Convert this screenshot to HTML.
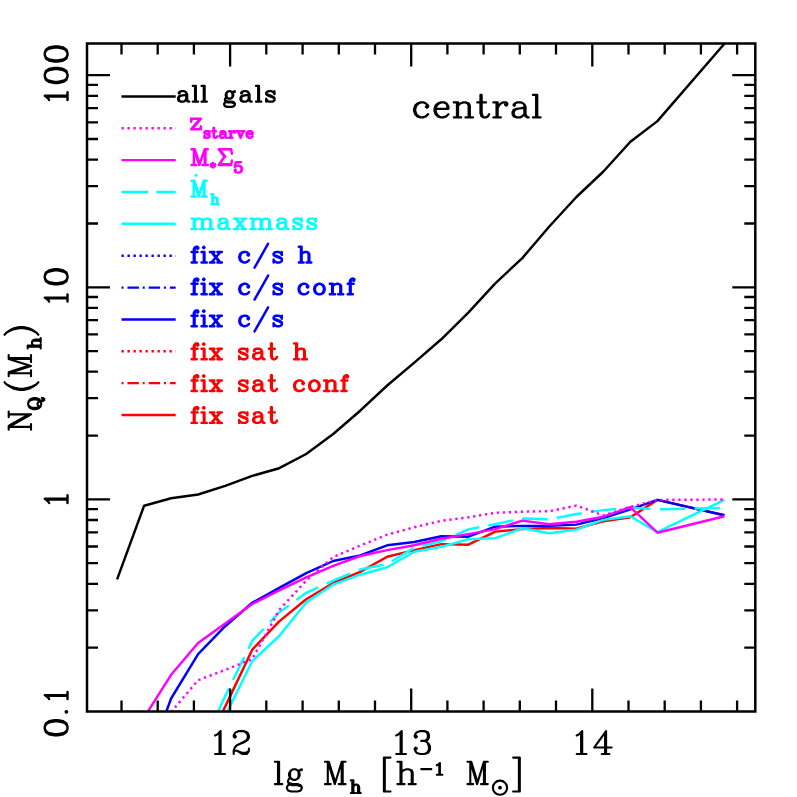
<!DOCTYPE html><html><head><meta charset="utf-8"><title>central</title><style>html,body{margin:0;padding:0;background:#fff}svg{display:block}</style></head><body><svg width="797" height="797" viewBox="0 0 797 797">
<rect width="797" height="797" fill="#fff"/>
<defs><clipPath id="c"><rect x="87.0" y="43.5" width="668.3" height="668.0"/></clipPath></defs>
<g clip-path="url(#c)" fill="none" stroke-width="2.45" stroke-linejoin="round">
<polyline points="198.1,763.6 225.2,706.6 252.2,649.7 279.2,621.4 306.2,599.3 333.2,583.0 360.2,571.9 387.2,556.7 414.3,550.1 441.3,544.1 468.3,544.7 495.3,531.6 522.3,529.1 549.3,528.0 576.4,528.6 603.4,521.3 630.4,517.3 657.4,499.9 724.4,515.3" stroke="#ff0000"/>
<polyline points="144.1,772.0 171.1,698.5 198.1,654.1 225.2,626.2 252.2,602.8 279.2,587.9 306.2,573.2 333.2,561.0 360.2,555.4 387.2,545.3 414.3,542.0 441.3,536.3 468.3,536.7 495.3,526.7 522.3,525.9 549.3,525.9 576.4,524.6 603.4,518.0 630.4,509.3 657.4,499.9 724.4,515.3" stroke="#0000ff"/>
<polyline points="198.1,770.0 225.2,715.8 252.2,661.2 279.2,636.0 306.2,602.6 333.2,584.6 360.2,574.7 387.2,567.3 414.3,551.8 441.3,546.9 468.3,539.2 495.3,538.1 522.3,528.3 549.3,533.2 576.4,529.6 603.4,519.9 630.4,516.3 657.4,532.2 724.4,499.8" stroke="#00ffff"/>
<polyline points="198.1,755.0 225.2,696.0 252.2,640.9 279.2,612.4 306.2,592.8 333.2,580.6 360.2,569.5 387.2,564.0 414.3,547.7 441.3,541.2 468.3,529.4 495.3,524.2 522.3,518.5 549.3,519.3 576.4,514.0 603.4,510.1 630.4,507.7 657.4,509.3 724.4,508.0" stroke="#00ffff" stroke-dasharray="25.4 9.24" stroke-dashoffset="21.1"/>
<polyline points="144.1,717.5 171.1,674.8 198.1,643.0 225.2,623.4 252.2,604.0 279.2,590.4 306.2,577.3 333.2,565.9 360.2,556.0 387.2,550.1 414.3,545.3 441.3,538.7 468.3,534.1 495.3,529.1 522.3,520.6 549.3,524.2 576.4,521.7 603.4,516.7 630.4,507.2 657.4,532.7 724.4,516.3" stroke="#ff00ff"/>
<polyline points="171.1,712.0 198.1,680.2 225.2,669.9 252.2,659.1 279.2,610.0 306.2,580.6 333.2,557.1 360.2,545.6 387.2,534.6 414.3,527.3 441.3,520.8 468.3,517.3 495.3,512.8 522.3,511.7 549.3,511.2 576.4,505.6 603.4,515.4 630.4,506.9 657.4,499.9 724.4,499.5" stroke="#ff00ff" stroke-dasharray="2.3 3.7"/>
<polyline points="117.1,579.3 144.1,505.7 171.1,498.2 198.1,494.5 225.2,485.9 252.2,475.9 279.2,468.2 306.2,454.0 333.2,434.0 360.2,410.7 387.2,385.5 414.3,362.6 441.3,339.3 468.3,312.6 495.3,283.3 522.3,258.1 549.3,226.5 576.4,197.0 603.4,171.5 630.4,141.7 657.4,121.1 724.4,43.8" stroke="#000"/>
</g>
<path d="M121.5 711.5v-11M121.5 43.5v11M157.7 711.5v-11M157.7 43.5v11M193.9 711.5v-11M193.9 43.5v11M230.1 711.5v-23M230.1 43.5v23M266.3 711.5v-11M266.3 43.5v11M302.6 711.5v-11M302.6 43.5v11M338.8 711.5v-11M338.8 43.5v11M375.0 711.5v-11M375.0 43.5v11M411.2 711.5v-23M411.2 43.5v23M447.4 711.5v-11M447.4 43.5v11M483.6 711.5v-11M483.6 43.5v11M519.8 711.5v-11M519.8 43.5v11M556.0 711.5v-11M556.0 43.5v11M592.3 711.5v-23M592.3 43.5v23M628.5 711.5v-11M628.5 43.5v11M664.7 711.5v-11M664.7 43.5v11M700.9 711.5v-11M700.9 43.5v11M737.1 711.5v-11M737.1 43.5v11M87.0 647.7h11M755.3 647.7h-11M87.0 610.3h11M755.3 610.3h-11M87.0 583.8h11M755.3 583.8h-11M87.0 563.2h11M755.3 563.2h-11M87.0 546.5h11M755.3 546.5h-11M87.0 532.3h11M755.3 532.3h-11M87.0 520.0h11M755.3 520.0h-11M87.0 509.1h11M755.3 509.1h-11M87.0 499.4h23M755.3 499.4h-23M87.0 435.6h11M755.3 435.6h-11M87.0 398.2h11M755.3 398.2h-11M87.0 371.7h11M755.3 371.7h-11M87.0 351.1h11M755.3 351.1h-11M87.0 334.4h11M755.3 334.4h-11M87.0 320.2h11M755.3 320.2h-11M87.0 307.9h11M755.3 307.9h-11M87.0 297.0h11M755.3 297.0h-11M87.0 287.3h23M755.3 287.3h-23M87.0 223.5h11M755.3 223.5h-11M87.0 186.1h11M755.3 186.1h-11M87.0 159.6h11M755.3 159.6h-11M87.0 139.0h11M755.3 139.0h-11M87.0 122.3h11M755.3 122.3h-11M87.0 108.1h11M755.3 108.1h-11M87.0 95.8h11M755.3 95.8h-11M87.0 84.9h11M755.3 84.9h-11M87.0 75.2h23M755.3 75.2h-23" stroke="#000" stroke-width="2.3" fill="none"/>
<rect x="87.0" y="43.5" width="668.3" height="668.0" fill="none" stroke="#000" stroke-width="2.5"/>
<line x1="121.5" x2="175.7" y1="96.4" y2="96.4" stroke="#000" stroke-width="2.45" />
<line x1="121.5" x2="175.7" y1="128.3" y2="128.3" stroke="#ff00ff" stroke-width="2.45" stroke-dasharray="2.3 3.7"/>
<line x1="121.5" x2="175.7" y1="160.1" y2="160.1" stroke="#ff00ff" stroke-width="2.45" />
<line x1="121.5" x2="175.7" y1="192.0" y2="192.0" stroke="#00ffff" stroke-width="2.45" stroke-dasharray="26.9 8"/>
<line x1="121.5" x2="175.7" y1="223.8" y2="223.8" stroke="#00ffff" stroke-width="2.45" />
<line x1="121.5" x2="175.7" y1="255.7" y2="255.7" stroke="#0000ff" stroke-width="2.45" stroke-dasharray="2.3 3.7"/>
<line x1="121.5" x2="175.7" y1="287.6" y2="287.6" stroke="#0000ff" stroke-width="2.45" stroke-dasharray="2 4 11.4 3.8"/>
<line x1="121.5" x2="175.7" y1="319.4" y2="319.4" stroke="#0000ff" stroke-width="2.45" />
<line x1="121.5" x2="175.7" y1="351.3" y2="351.3" stroke="#ff0000" stroke-width="2.45" stroke-dasharray="2.3 3.7"/>
<line x1="121.5" x2="175.7" y1="383.1" y2="383.1" stroke="#ff0000" stroke-width="2.45" stroke-dasharray="2 4 11.4 3.8"/>
<line x1="121.5" x2="175.7" y1="415.0" y2="415.0" stroke="#ff0000" stroke-width="2.45" />
<path d="M179.6 92.7L179.6 93.4L178.8 93.4L178.8 92.7L179.6 91.9L181.1 91.2L184.1 91.2L185.6 91.9L186.3 92.7L186.3 94.2L185.6 94.9L181.1 95.7L178.8 96.4L178.1 97.9L178.1 99.4L178.8 100.9L181.1 101.7L179.6 100.9L178.8 99.4L178.8 97.9L179.6 96.4L181.1 95.7M181.1 101.7L183.3 101.7L184.8 100.9L186.3 99.4L186.3 94.2M186.3 92.7L187.1 94.2L187.1 99.4L187.8 100.9L188.6 101.7L187.1 100.9L186.3 99.4M188.6 101.7L189.3 101.7M192.8 85.9L195.8 85.9L195.8 101.7L195.1 101.7L195.1 85.9M192.8 101.7L195.1 101.7M195.8 101.7L198.1 101.7M201.6 85.9L204.6 85.9L204.6 101.7L203.8 101.7L203.8 85.9M201.6 101.7L203.8 101.7M204.6 101.7L206.8 101.7M225.0 100.2L225.0 99.4L225.8 97.9L226.5 97.2L225.8 95.7L225.8 94.2L226.5 92.7L227.2 91.9L228.8 91.2L230.2 91.2L231.8 91.9L232.5 92.7L233.2 91.9L234.8 91.2L234.8 91.9L233.2 91.9M225.0 100.2L225.8 100.9L228.0 101.7L231.8 101.7L234.0 102.4L234.8 103.9L234.0 103.2L231.8 102.4L228.0 102.4L225.8 101.7L225.0 100.2M226.5 97.2L227.2 97.9L226.5 96.4L226.5 93.4L227.2 91.9M227.2 97.9L228.8 98.7L230.2 98.7L231.8 97.9L232.5 96.4L232.5 93.4L231.8 91.9M227.2 101.7L225.0 102.4L224.2 103.9L224.2 104.7L225.0 106.2L227.2 106.9L231.8 106.9L234.0 106.2L234.8 104.7L234.8 103.9M231.8 97.9L232.5 97.2L233.2 95.7L233.2 94.2L232.5 92.7M242.0 92.7L242.0 93.4L241.2 93.4L241.2 92.7L242.0 91.9L243.5 91.2L246.5 91.2L248.0 91.9L248.7 92.7L248.7 94.2L248.0 94.9L243.5 95.7L241.2 96.4L240.5 97.9L240.5 99.4L241.2 100.9L243.5 101.7L242.0 100.9L241.2 99.4L241.2 97.9L242.0 96.4L243.5 95.7M243.5 101.7L245.7 101.7L247.2 100.9L248.7 99.4L248.7 94.2M248.7 92.7L249.5 94.2L249.5 99.4L250.2 100.9L251.0 101.7L249.5 100.9L248.7 99.4M251.0 101.7L251.7 101.7M256.0 85.9L259.0 85.9L259.0 101.7L258.2 101.7L258.2 85.9M256.0 101.7L258.2 101.7M259.0 101.7L261.2 101.7M266.2 93.4L266.2 92.7L267.0 91.9L268.5 91.2L271.5 91.2L273.0 91.9L273.7 92.7L274.5 91.2L274.5 94.2L273.7 92.7M266.2 93.4L266.2 94.2L267.0 94.9L268.5 95.7L272.2 97.2L273.7 97.9L274.5 98.7L274.5 97.9L273.7 97.2L272.2 96.4L268.5 94.9L267.0 94.2L266.2 93.4M267.0 100.2L266.2 98.7L266.2 101.7L267.0 100.2L267.7 100.9L269.2 101.7L272.2 101.7L273.7 100.9L274.5 100.2L274.5 98.7" fill="none" stroke="#000" stroke-width="2.3" stroke-linecap="round" stroke-linejoin="round"/>
<path d="M191.9 118.8L191.1 118.8L191.1 121.8L191.9 118.8L200.9 118.8L197.6 122.5L198.4 121.8M191.9 129.3L200.9 118.8L195.2 125.5L197.6 122.5L191.9 129.3L195.2 125.5M191.9 129.3L191.1 129.3L200.1 118.8L196.8 122.5L197.6 121.8M191.9 129.3L200.1 129.3L200.9 126.3L200.9 129.3L200.1 129.3M194.4 125.5L200.1 118.8M194.4 125.5L196.8 122.5L191.1 129.3L194.4 125.5M204.4 132.6L204.4 132.1L204.9 131.6L205.8 131.2L207.7 131.2L208.6 131.6L209.1 132.1L209.6 131.2L209.6 133.1L209.1 132.1M204.4 132.6L204.4 133.1L204.9 133.5L205.8 134.0L208.2 134.9L209.1 135.4L209.6 135.9L209.6 135.4L209.1 134.9L208.2 134.5L205.8 133.5L204.9 133.1L204.4 132.6M204.9 136.8L204.4 135.9L204.4 137.8L204.9 136.8L205.3 137.3L206.3 137.8L208.2 137.8L209.1 137.3L209.6 136.8L209.6 135.9M212.2 131.2L213.6 131.2L213.6 127.9M214.0 127.9L214.0 131.2L213.6 131.2L213.6 135.9L214.0 137.3L215.0 137.8L214.5 137.3L214.0 135.9L214.0 131.2L215.9 131.2M215.0 137.8L215.9 137.8L216.9 137.3L217.3 136.3M220.9 132.1L220.9 132.6L220.4 132.6L220.4 132.1L220.9 131.6L221.8 131.2L223.7 131.2L224.6 131.6L225.1 132.1L225.1 133.1L224.6 133.5L221.8 134.0L220.4 134.5L219.9 135.4L219.9 136.3L220.4 137.3L221.8 137.8L220.9 137.3L220.4 136.3L220.4 135.4L220.9 134.5L221.8 134.0M221.8 137.8L223.2 137.8L224.1 137.3L225.1 136.3L225.1 133.1M225.1 132.1L225.6 133.1L225.6 136.3L226.0 137.3L226.5 137.8L225.6 137.3L225.1 136.3M226.5 137.8L227.0 137.8M229.1 131.2L231.0 131.2L231.0 134.0L231.4 132.6L232.4 131.6L233.3 131.2L234.7 131.2L235.2 131.6L235.2 132.1L234.7 132.6L234.3 132.1L234.7 131.6M229.1 137.8L230.5 137.8L230.5 131.2M230.5 137.8L231.0 137.8L231.0 134.0M231.0 137.8L232.4 137.8M236.8 131.2L239.7 131.2M237.8 131.2L240.6 137.8L243.4 131.2L241.6 131.2M238.3 131.2L239.2 133.5L239.7 134.5L238.3 131.2L240.6 136.8L239.2 133.5M239.7 134.5L240.6 136.8M243.4 131.2L244.4 131.2M247.0 134.0L247.4 132.6L248.4 131.6L249.3 131.2L250.7 131.2L251.7 131.6L252.1 132.1L252.6 133.1L252.6 134.0L252.1 134.0L252.1 132.6L251.7 131.6M247.0 134.0L252.1 134.0M247.0 134.0L247.0 134.9L247.4 136.3L248.4 137.3L249.3 137.8L247.9 137.3L247.0 136.3L246.5 134.9L246.5 134.0L247.0 132.6L247.9 131.6L249.3 131.2M249.3 137.8L250.2 137.8L251.7 137.3L252.6 136.3" fill="none" stroke="#ff00ff" stroke-width="2.4" stroke-linecap="round" stroke-linejoin="round"/>
<path d="M191.6 149.2L194.7 149.2L199.3 162.8M191.6 165.0L193.9 165.0L193.9 149.2L199.3 165.0L204.7 149.2L207.8 149.2M193.9 165.0L196.2 165.0M202.4 165.0L204.7 165.0L204.7 149.2M204.7 165.0L205.5 165.0L205.5 149.2M205.5 165.0L207.8 165.0M218.7 149.2L224.5 156.8L218.7 165.0M219.5 149.2L225.3 156.8M218.7 149.2L231.1 149.2L231.9 153.8M230.2 150.0L231.1 149.2M219.5 164.2L231.1 164.2M218.7 165.0L231.1 165.0L231.9 160.5M235.3 170.6L235.8 170.1L235.3 169.6L234.8 170.1L234.8 170.6L235.3 171.6L235.8 172.1L237.4 172.6L238.9 172.6L239.9 172.1L241.0 171.1L241.5 169.6L241.5 168.6L241.0 167.1L239.9 166.1L238.9 165.6L237.4 165.6L235.8 166.1L234.8 167.1L235.8 162.1L241.0 162.1L238.4 162.6L235.8 162.6M238.9 165.6L240.5 166.1L241.5 167.1L242.0 168.6L242.0 169.6L241.5 171.1L240.5 172.1L238.9 172.6" fill="none" stroke="#ff00ff" stroke-width="2.4" stroke-linecap="round" stroke-linejoin="round"/><path d="M212.9 167.5L212.9 162.9M214.9 166.3L210.9 164.0M214.9 164.0L210.9 166.3" stroke="#ff00ff" stroke-width="2.4" stroke-linecap="round" fill="none"/><circle cx="212.9" cy="165.2" r="2.7" fill="#ff00ff"/>
<path d="M191.6 180.8L194.5 180.8L198.7 194.2M191.6 196.5L193.7 196.5L193.7 180.8L198.7 196.5L203.7 180.8L206.6 180.8M193.7 196.5L195.9 196.5M201.6 196.5L203.7 196.5L203.7 180.8M203.7 196.5L204.5 196.5L204.5 180.8M204.5 196.5L206.6 196.5M211.3 194.2L213.0 194.2L213.0 198.9L213.8 198.0L215.0 197.5L215.8 197.5L216.7 198.0L217.1 198.9L217.1 204.1L215.8 204.1M211.3 204.1L212.5 204.1L212.5 194.2M212.5 204.1L213.0 204.1L213.0 198.9M213.0 204.1L214.2 204.1M215.8 197.5L217.1 198.0L217.5 198.9L217.5 204.1L217.1 204.1M217.5 204.1L218.7 204.1" fill="none" stroke="#00ffff" stroke-width="2.4" stroke-linecap="round" stroke-linejoin="round"/><circle cx="196.2" cy="175.2" r="1.5" fill="#00ffff"/>
<path d="M191.6 218.6L194.6 218.6L194.6 220.8L196.1 219.3L198.3 218.6L199.8 218.6L201.3 219.3L202.1 220.8L202.1 229.1L199.8 229.1M191.6 229.1L193.8 229.1L193.8 218.6M193.8 229.1L194.6 229.1L194.6 220.8M194.6 229.1L196.8 229.1M199.8 218.6L202.1 219.3L202.8 220.8L204.3 219.3L206.6 218.6L208.1 218.6L209.6 219.3L210.3 220.8L210.3 229.1L208.1 229.1M202.1 229.1L202.8 229.1L202.8 220.8M202.8 229.1L205.1 229.1M208.1 218.6L210.3 219.3L211.1 220.8L211.1 229.1L210.3 229.1M211.1 229.1L213.3 229.1M219.9 220.1L219.9 220.8L219.2 220.8L219.2 220.1L219.9 219.3L221.4 218.6L224.4 218.6L225.9 219.3L226.7 220.1L226.7 221.6L225.9 222.3L221.4 223.1L219.2 223.8L218.4 225.3L218.4 226.8L219.2 228.3L221.4 229.1L219.9 228.3L219.2 226.8L219.2 225.3L219.9 223.8L221.4 223.1M221.4 229.1L223.7 229.1L225.2 228.3L226.7 226.8L226.7 221.6M226.7 220.1L227.4 221.6L227.4 226.8L228.2 228.3L228.9 229.1L227.4 228.3L226.7 226.8M228.9 229.1L229.7 229.1M234.0 218.6L238.5 218.6M234.0 229.1L235.5 229.1L244.5 218.6L241.5 218.6M235.5 218.6L238.5 222.3L237.8 221.6M235.5 218.6L240.8 225.3L238.5 222.3L243.8 229.1L235.5 218.6M236.2 218.6L239.2 222.3L238.5 221.6M236.2 218.6L241.5 225.3L239.2 222.3L244.5 229.1L236.2 218.6M236.2 228.3L235.5 229.1L238.5 229.1M239.2 224.6L240.8 223.1M240.8 225.3L243.8 229.1L241.5 229.1M241.5 225.3L244.5 229.1L243.8 229.1M243.8 219.3L244.5 218.6L246.0 218.6M244.5 229.1L246.0 229.1M250.3 218.6L253.3 218.6L253.3 220.8L254.8 219.3L257.1 218.6L258.6 218.6L260.1 219.3L260.8 220.8L260.8 229.1L258.6 229.1M250.3 229.1L252.6 229.1L252.6 218.6M252.6 229.1L253.3 229.1L253.3 220.8M253.3 229.1L255.6 229.1M258.6 218.6L260.8 219.3L261.6 220.8L263.1 219.3L265.3 218.6L266.8 218.6L268.3 219.3L269.1 220.8L269.1 229.1L266.8 229.1M260.8 229.1L261.6 229.1L261.6 220.8M261.6 229.1L263.8 229.1M266.8 218.6L269.1 219.3L269.8 220.8L269.8 229.1L269.1 229.1M269.8 229.1L272.1 229.1M278.6 220.1L278.6 220.8L277.9 220.8L277.9 220.1L278.6 219.3L280.1 218.6L283.1 218.6L284.6 219.3L285.4 220.1L285.4 221.6L284.6 222.3L280.1 223.1L277.9 223.8L277.1 225.3L277.1 226.8L277.9 228.3L280.1 229.1L278.6 228.3L277.9 226.8L277.9 225.3L278.6 223.8L280.1 223.1M280.1 229.1L282.4 229.1L283.9 228.3L285.4 226.8L285.4 221.6M285.4 220.1L286.1 221.6L286.1 226.8L286.9 228.3L287.6 229.1L286.1 228.3L285.4 226.8M287.6 229.1L288.4 229.1M293.5 220.8L293.5 220.1L294.2 219.3L295.7 218.6L298.7 218.6L300.2 219.3L301.0 220.1L301.7 218.6L301.7 221.6L301.0 220.1M293.5 220.8L293.5 221.6L294.2 222.3L295.7 223.1L299.5 224.6L301.0 225.3L301.7 226.1L301.7 225.3L301.0 224.6L299.5 223.8L295.7 222.3L294.2 221.6L293.5 220.8M294.2 227.6L293.5 226.1L293.5 229.1L294.2 227.6L295.0 228.3L296.5 229.1L299.5 229.1L301.0 228.3L301.7 227.6L301.7 226.1M307.6 220.8L307.6 220.1L308.3 219.3L309.8 218.6L312.8 218.6L314.3 219.3L315.1 220.1L315.8 218.6L315.8 221.6L315.1 220.1M307.6 220.8L307.6 221.6L308.3 222.3L309.8 223.1L313.6 224.6L315.1 225.3L315.8 226.1L315.8 225.3L315.1 224.6L313.6 223.8L309.8 222.3L308.3 221.6L307.6 220.8M308.3 227.6L307.6 226.1L307.6 229.1L308.3 227.6L309.1 228.3L310.6 229.1L313.6 229.1L315.1 228.3L315.8 227.6L315.8 226.1" fill="none" stroke="#00ffff" stroke-width="2.4" stroke-linecap="round" stroke-linejoin="round"/>
<path d="M191.6 252.0L193.8 252.0L193.8 249.0L194.6 247.5L196.1 246.7L197.6 246.7L198.3 247.5L198.3 248.2L197.6 249.0L196.8 248.2L197.6 247.5M191.6 262.5L193.8 262.5L193.8 252.0L194.6 252.0L194.6 249.0L195.3 247.5L196.1 246.7M193.8 262.5L194.6 262.5L194.6 252.0L197.6 252.0M194.6 262.5L196.8 262.5M201.5 252.0L204.5 252.0L204.5 262.5L203.8 262.5L203.8 252.0M201.5 262.5L203.8 262.5M204.5 262.5L206.8 262.5M203.0 247.5L203.8 246.7L204.5 247.5L203.8 248.2L203.0 247.5M209.9 252.0L214.4 252.0M209.9 262.5L211.4 262.5L220.4 252.0L217.4 252.0M211.4 252.0L214.4 255.7L213.6 255.0M211.4 252.0L216.6 258.7L214.4 255.7L219.6 262.5L211.4 252.0M212.1 252.0L215.1 255.7L214.4 255.0M212.1 252.0L217.4 258.7L215.1 255.7L220.4 262.5L212.1 252.0M212.1 261.7L211.4 262.5L214.4 262.5M215.1 258.0L216.6 256.5M216.6 258.7L219.6 262.5L217.4 262.5M217.4 258.7L220.4 262.5L219.6 262.5M219.6 252.7L220.4 252.0L221.9 252.0M220.4 262.5L221.9 262.5M243.8 252.0L246.0 252.0L247.5 252.7L249.0 254.2L249.0 255.0L248.3 255.7L247.5 255.0L248.3 254.2M243.8 252.0L241.5 252.7L240.0 254.2L239.3 256.5L239.3 258.0L240.0 260.2L241.5 261.7L243.8 262.5L242.3 261.7L240.8 260.2L240.0 258.0L240.0 256.5L240.8 254.2L242.3 252.7L243.8 252.0M243.8 262.5L245.3 262.5L247.5 261.7L249.0 260.2M254.5 267.7L265.1 249.0L268.1 243.7L267.3 245.2M254.5 267.7L264.3 250.5L268.1 243.7L261.3 255.7L265.1 249.0L264.3 250.5L261.3 255.7L260.6 257.2M254.5 267.7L261.3 255.7L258.3 261.0L268.1 243.7L257.6 262.5L264.3 250.5M254.5 267.7L258.3 261.0L265.1 249.0M254.5 267.7L257.6 262.5L261.3 255.7M257.6 262.5L258.3 261.0M273.6 254.2L273.6 253.5L274.3 252.7L275.8 252.0L278.8 252.0L280.3 252.7L281.1 253.5L281.8 252.0L281.8 255.0L281.1 253.5M273.6 254.2L273.6 255.0L274.3 255.7L275.8 256.5L279.6 258.0L281.1 258.7L281.8 259.5L281.8 258.7L281.1 258.0L279.6 257.2L275.8 255.7L274.3 255.0L273.6 254.2M274.3 261.0L273.6 259.5L273.6 262.5L274.3 261.0L275.1 261.7L276.6 262.5L279.6 262.5L281.1 261.7L281.8 261.0L281.8 259.5M298.8 246.7L301.6 246.7L301.6 254.2L303.0 252.7L305.1 252.0L306.5 252.0L307.9 252.7L308.6 254.2L308.6 262.5L306.5 262.5M298.8 262.5L300.9 262.5L300.9 246.7M300.9 262.5L301.6 262.5L301.6 254.2M301.6 262.5L303.7 262.5M306.5 252.0L308.6 252.7L309.3 254.2L309.3 262.5L308.6 262.5M309.3 262.5L311.4 262.5" fill="none" stroke="#0000ff" stroke-width="2.4" stroke-linecap="round" stroke-linejoin="round"/>
<path d="M191.6 283.8L193.8 283.8L193.8 280.8L194.6 279.3L196.1 278.6L197.6 278.6L198.3 279.3L198.3 280.1L197.6 280.8L196.8 280.1L197.6 279.3M191.6 294.3L193.8 294.3L193.8 283.8L194.6 283.8L194.6 280.8L195.3 279.3L196.1 278.6M193.8 294.3L194.6 294.3L194.6 283.8L197.6 283.8M194.6 294.3L196.8 294.3M201.5 283.8L204.5 283.8L204.5 294.3L203.8 294.3L203.8 283.8M201.5 294.3L203.8 294.3M204.5 294.3L206.8 294.3M203.0 279.3L203.8 278.6L204.5 279.3L203.8 280.1L203.0 279.3M209.9 283.8L214.4 283.8M209.9 294.3L211.4 294.3L220.4 283.8L217.4 283.8M211.4 283.8L214.4 287.6L213.6 286.8M211.4 283.8L216.6 290.6L214.4 287.6L219.6 294.3L211.4 283.8M212.1 283.8L215.1 287.6L214.4 286.8M212.1 283.8L217.4 290.6L215.1 287.6L220.4 294.3L212.1 283.8M212.1 293.6L211.4 294.3L214.4 294.3M215.1 289.8L216.6 288.3M216.6 290.6L219.6 294.3L217.4 294.3M217.4 290.6L220.4 294.3L219.6 294.3M219.6 284.6L220.4 283.8L221.9 283.8M220.4 294.3L221.9 294.3M243.8 283.8L246.0 283.8L247.5 284.6L249.0 286.1L249.0 286.8L248.3 287.6L247.5 286.8L248.3 286.1M243.8 283.8L241.5 284.6L240.0 286.1L239.3 288.3L239.3 289.8L240.0 292.1L241.5 293.6L243.8 294.3L242.3 293.6L240.8 292.1L240.0 289.8L240.0 288.3L240.8 286.1L242.3 284.6L243.8 283.8M243.8 294.3L245.3 294.3L247.5 293.6L249.0 292.1M254.5 299.6L265.1 280.8L268.1 275.6L267.3 277.1M254.5 299.6L264.3 282.3L268.1 275.6L261.3 287.6L265.1 280.8L264.3 282.3L261.3 287.6L260.6 289.1M254.5 299.6L261.3 287.6L258.3 292.8L268.1 275.6L257.6 294.3L264.3 282.3M254.5 299.6L258.3 292.8L265.1 280.8M254.5 299.6L257.6 294.3L261.3 287.6M257.6 294.3L258.3 292.8M273.6 286.1L273.6 285.3L274.3 284.6L275.8 283.8L278.8 283.8L280.3 284.6L281.1 285.3L281.8 283.8L281.8 286.8L281.1 285.3M273.6 286.1L273.6 286.8L274.3 287.6L275.8 288.3L279.6 289.8L281.1 290.6L281.8 291.3L281.8 290.6L281.1 289.8L279.6 289.1L275.8 287.6L274.3 286.8L273.6 286.1M274.3 292.8L273.6 291.3L273.6 294.3L274.3 292.8L275.1 293.6L276.6 294.3L279.6 294.3L281.1 293.6L281.8 292.8L281.8 291.3M303.1 283.8L305.3 283.8L306.8 284.6L308.3 286.1L308.3 286.8L307.6 287.6L306.8 286.8L307.6 286.1M303.1 283.8L300.8 284.6L299.3 286.1L298.6 288.3L298.6 289.8L299.3 292.1L300.8 293.6L303.1 294.3L301.6 293.6L300.1 292.1L299.3 289.8L299.3 288.3L300.1 286.1L301.6 284.6L303.1 283.8M303.1 294.3L304.6 294.3L306.8 293.6L308.3 292.1M318.7 283.8L320.2 283.8L321.7 284.6L323.2 286.1L323.9 288.3L323.9 289.8L323.2 292.1L321.7 293.6L320.2 294.3L322.4 293.6L323.9 292.1L324.7 289.8L324.7 288.3L323.9 286.1L322.4 284.6L320.2 283.8M318.7 283.8L316.4 284.6L314.9 286.1L314.2 288.3L314.2 289.8L314.9 292.1L316.4 293.6L318.7 294.3L317.2 293.6L315.7 292.1L314.9 289.8L314.9 288.3L315.7 286.1L317.2 284.6L318.7 283.8M318.7 294.3L320.2 294.3M329.8 283.8L332.8 283.8L332.8 286.1L334.3 284.6L336.6 283.8L338.1 283.8L339.6 284.6L340.3 286.1L340.3 294.3L338.1 294.3M329.8 294.3L332.1 294.3L332.1 283.8M332.1 294.3L332.8 294.3L332.8 286.1M332.8 294.3L335.1 294.3M338.1 283.8L340.3 284.6L341.1 286.1L341.1 294.3L340.3 294.3M341.1 294.3L343.3 294.3M347.7 283.8L349.9 283.8L349.9 280.8L350.7 279.3L352.2 278.6L353.7 278.6L354.4 279.3L354.4 280.1L353.7 280.8L352.9 280.1L353.7 279.3M347.7 294.3L349.9 294.3L349.9 283.8L350.7 283.8L350.7 280.8L351.4 279.3L352.2 278.6M349.9 294.3L350.7 294.3L350.7 283.8L353.7 283.8M350.7 294.3L352.9 294.3" fill="none" stroke="#0000ff" stroke-width="2.4" stroke-linecap="round" stroke-linejoin="round"/>
<path d="M191.6 315.7L193.8 315.7L193.8 312.7L194.6 311.2L196.1 310.4L197.6 310.4L198.3 311.2L198.3 311.9L197.6 312.7L196.8 311.9L197.6 311.2M191.6 326.2L193.8 326.2L193.8 315.7L194.6 315.7L194.6 312.7L195.3 311.2L196.1 310.4M193.8 326.2L194.6 326.2L194.6 315.7L197.6 315.7M194.6 326.2L196.8 326.2M201.5 315.7L204.5 315.7L204.5 326.2L203.8 326.2L203.8 315.7M201.5 326.2L203.8 326.2M204.5 326.2L206.8 326.2M203.0 311.2L203.8 310.4L204.5 311.2L203.8 311.9L203.0 311.2M209.9 315.7L214.4 315.7M209.9 326.2L211.4 326.2L220.4 315.7L217.4 315.7M211.4 315.7L214.4 319.4L213.6 318.7M211.4 315.7L216.6 322.4L214.4 319.4L219.6 326.2L211.4 315.7M212.1 315.7L215.1 319.4L214.4 318.7M212.1 315.7L217.4 322.4L215.1 319.4L220.4 326.2L212.1 315.7M212.1 325.4L211.4 326.2L214.4 326.2M215.1 321.7L216.6 320.2M216.6 322.4L219.6 326.2L217.4 326.2M217.4 322.4L220.4 326.2L219.6 326.2M219.6 316.4L220.4 315.7L221.9 315.7M220.4 326.2L221.9 326.2M243.8 315.7L246.0 315.7L247.5 316.4L249.0 317.9L249.0 318.7L248.3 319.4L247.5 318.7L248.3 317.9M243.8 315.7L241.5 316.4L240.0 317.9L239.3 320.2L239.3 321.7L240.0 323.9L241.5 325.4L243.8 326.2L242.3 325.4L240.8 323.9L240.0 321.7L240.0 320.2L240.8 317.9L242.3 316.4L243.8 315.7M243.8 326.2L245.3 326.2L247.5 325.4L249.0 323.9M254.5 331.4L265.1 312.7L268.1 307.4L267.3 308.9M254.5 331.4L264.3 314.2L268.1 307.4L261.3 319.4L265.1 312.7L264.3 314.2L261.3 319.4L260.6 320.9M254.5 331.4L261.3 319.4L258.3 324.7L268.1 307.4L257.6 326.2L264.3 314.2M254.5 331.4L258.3 324.7L265.1 312.7M254.5 331.4L257.6 326.2L261.3 319.4M257.6 326.2L258.3 324.7M273.6 317.9L273.6 317.2L274.3 316.4L275.8 315.7L278.8 315.7L280.3 316.4L281.1 317.2L281.8 315.7L281.8 318.7L281.1 317.2M273.6 317.9L273.6 318.7L274.3 319.4L275.8 320.2L279.6 321.7L281.1 322.4L281.8 323.2L281.8 322.4L281.1 321.7L279.6 320.9L275.8 319.4L274.3 318.7L273.6 317.9M274.3 324.7L273.6 323.2L273.6 326.2L274.3 324.7L275.1 325.4L276.6 326.2L279.6 326.2L281.1 325.4L281.8 324.7L281.8 323.2" fill="none" stroke="#0000ff" stroke-width="2.4" stroke-linecap="round" stroke-linejoin="round"/>
<path d="M191.6 348.7L193.8 348.7L193.8 345.7L194.6 344.2L196.1 343.4L197.6 343.4L198.3 344.2L198.3 344.9L197.6 345.7L196.8 344.9L197.6 344.2M191.6 359.2L193.8 359.2L193.8 348.7L194.6 348.7L194.6 345.7L195.3 344.2L196.1 343.4M193.8 359.2L194.6 359.2L194.6 348.7L197.6 348.7M194.6 359.2L196.8 359.2M201.5 348.7L204.5 348.7L204.5 359.2L203.8 359.2L203.8 348.7M201.5 359.2L203.8 359.2M204.5 359.2L206.8 359.2M203.0 344.2L203.8 343.4L204.5 344.2L203.8 344.9L203.0 344.2M209.9 348.7L214.4 348.7M209.9 359.2L211.4 359.2L220.4 348.7L217.4 348.7M211.4 348.7L214.4 352.4L213.6 351.7M211.4 348.7L216.6 355.4L214.4 352.4L219.6 359.2L211.4 348.7M212.1 348.7L215.1 352.4L214.4 351.7M212.1 348.7L217.4 355.4L215.1 352.4L220.4 359.2L212.1 348.7M212.1 358.4L211.4 359.2L214.4 359.2M215.1 354.7L216.6 353.2M216.6 355.4L219.6 359.2L217.4 359.2M217.4 355.4L220.4 359.2L219.6 359.2M219.6 349.4L220.4 348.7L221.9 348.7M220.4 359.2L221.9 359.2M239.2 350.9L239.2 350.2L239.9 349.4L241.4 348.7L244.4 348.7L245.9 349.4L246.7 350.2L247.4 348.7L247.4 351.7L246.7 350.2M239.2 350.9L239.2 351.7L239.9 352.4L241.4 353.2L245.2 354.7L246.7 355.4L247.4 356.2L247.4 355.4L246.7 354.7L245.2 353.9L241.4 352.4L239.9 351.7L239.2 350.9M239.9 357.7L239.2 356.2L239.2 359.2L239.9 357.7L240.7 358.4L242.2 359.2L245.2 359.2L246.7 358.4L247.4 357.7L247.4 356.2M254.7 350.2L254.7 350.9L254.0 350.9L254.0 350.2L254.7 349.4L256.2 348.7L259.2 348.7L260.7 349.4L261.5 350.2L261.5 351.7L260.7 352.4L256.2 353.2L254.0 353.9L253.2 355.4L253.2 356.9L254.0 358.4L256.2 359.2L254.7 358.4L254.0 356.9L254.0 355.4L254.7 353.9L256.2 353.2M256.2 359.2L258.5 359.2L260.0 358.4L261.5 356.9L261.5 351.7M261.5 350.2L262.2 351.7L262.2 356.9L263.0 358.4L263.7 359.2L262.2 358.4L261.5 356.9M263.7 359.2L264.5 359.2M268.8 348.7L271.0 348.7L271.0 343.4M271.8 343.4L271.8 348.7L271.0 348.7L271.0 356.2L271.8 358.4L273.2 359.2L272.5 358.4L271.8 356.2L271.8 348.7L274.8 348.7M273.2 359.2L274.8 359.2L276.2 358.4L277.0 356.9M294.1 343.4L297.0 343.4L297.0 350.9L298.4 349.4L300.5 348.7L302.0 348.7L303.4 349.4L304.1 350.9L304.1 359.2L302.0 359.2M294.1 359.2L296.2 359.2L296.2 343.4M296.2 359.2L297.0 359.2L297.0 350.9M297.0 359.2L299.1 359.2M302.0 348.7L304.1 349.4L304.8 350.9L304.8 359.2L304.1 359.2M304.8 359.2L307.0 359.2" fill="none" stroke="#ff0000" stroke-width="2.4" stroke-linecap="round" stroke-linejoin="round"/>
<path d="M191.6 380.5L193.8 380.5L193.8 377.5L194.6 376.0L196.1 375.3L197.6 375.3L198.3 376.0L198.3 376.8L197.6 377.5L196.8 376.8L197.6 376.0M191.6 391.0L193.8 391.0L193.8 380.5L194.6 380.5L194.6 377.5L195.3 376.0L196.1 375.3M193.8 391.0L194.6 391.0L194.6 380.5L197.6 380.5M194.6 391.0L196.8 391.0M201.5 380.5L204.5 380.5L204.5 391.0L203.8 391.0L203.8 380.5M201.5 391.0L203.8 391.0M204.5 391.0L206.8 391.0M203.0 376.0L203.8 375.3L204.5 376.0L203.8 376.8L203.0 376.0M209.9 380.5L214.4 380.5M209.9 391.0L211.4 391.0L220.4 380.5L217.4 380.5M211.4 380.5L214.4 384.3L213.6 383.5M211.4 380.5L216.6 387.3L214.4 384.3L219.6 391.0L211.4 380.5M212.1 380.5L215.1 384.3L214.4 383.5M212.1 380.5L217.4 387.3L215.1 384.3L220.4 391.0L212.1 380.5M212.1 390.3L211.4 391.0L214.4 391.0M215.1 386.5L216.6 385.0M216.6 387.3L219.6 391.0L217.4 391.0M217.4 387.3L220.4 391.0L219.6 391.0M219.6 381.3L220.4 380.5L221.9 380.5M220.4 391.0L221.9 391.0M239.2 382.8L239.2 382.0L239.9 381.3L241.4 380.5L244.4 380.5L245.9 381.3L246.7 382.0L247.4 380.5L247.4 383.5L246.7 382.0M239.2 382.8L239.2 383.5L239.9 384.3L241.4 385.0L245.2 386.5L246.7 387.3L247.4 388.0L247.4 387.3L246.7 386.5L245.2 385.8L241.4 384.3L239.9 383.5L239.2 382.8M239.9 389.5L239.2 388.0L239.2 391.0L239.9 389.5L240.7 390.3L242.2 391.0L245.2 391.0L246.7 390.3L247.4 389.5L247.4 388.0M254.7 382.0L254.7 382.8L254.0 382.8L254.0 382.0L254.7 381.3L256.2 380.5L259.2 380.5L260.7 381.3L261.5 382.0L261.5 383.5L260.7 384.3L256.2 385.0L254.0 385.8L253.2 387.3L253.2 388.8L254.0 390.3L256.2 391.0L254.7 390.3L254.0 388.8L254.0 387.3L254.7 385.8L256.2 385.0M256.2 391.0L258.5 391.0L260.0 390.3L261.5 388.8L261.5 383.5M261.5 382.0L262.2 383.5L262.2 388.8L263.0 390.3L263.7 391.0L262.2 390.3L261.5 388.8M263.7 391.0L264.5 391.0M268.8 380.5L271.0 380.5L271.0 375.3M271.8 375.3L271.8 380.5L271.0 380.5L271.0 388.0L271.8 390.3L273.2 391.0L272.5 390.3L271.8 388.0L271.8 380.5L274.8 380.5M273.2 391.0L274.8 391.0L276.2 390.3L277.0 388.8M298.6 380.5L300.8 380.5L302.3 381.3L303.8 382.8L303.8 383.5L303.1 384.3L302.3 383.5L303.1 382.8M298.6 380.5L296.3 381.3L294.8 382.8L294.1 385.0L294.1 386.5L294.8 388.8L296.3 390.3L298.6 391.0L297.1 390.3L295.6 388.8L294.8 386.5L294.8 385.0L295.6 382.8L297.1 381.3L298.6 380.5M298.6 391.0L300.1 391.0L302.3 390.3L303.8 388.8M313.6 380.5L315.1 380.5L316.6 381.3L318.1 382.8L318.8 385.0L318.8 386.5L318.1 388.8L316.6 390.3L315.1 391.0L317.3 390.3L318.8 388.8L319.6 386.5L319.6 385.0L318.8 382.8L317.3 381.3L315.1 380.5M313.6 380.5L311.3 381.3L309.8 382.8L309.1 385.0L309.1 386.5L309.8 388.8L311.3 390.3L313.6 391.0L312.1 390.3L310.6 388.8L309.8 386.5L309.8 385.0L310.6 382.8L312.1 381.3L313.6 380.5M313.6 391.0L315.1 391.0M324.1 380.5L327.1 380.5L327.1 382.8L328.6 381.3L330.9 380.5L332.4 380.5L333.9 381.3L334.6 382.8L334.6 391.0L332.4 391.0M324.1 391.0L326.4 391.0L326.4 380.5M326.4 391.0L327.1 391.0L327.1 382.8M327.1 391.0L329.4 391.0M332.4 380.5L334.6 381.3L335.4 382.8L335.4 391.0L334.6 391.0M335.4 391.0L337.6 391.0M341.4 380.5L343.6 380.5L343.6 377.5L344.4 376.0L345.9 375.3L347.4 375.3L348.1 376.0L348.1 376.8L347.4 377.5L346.6 376.8L347.4 376.0M341.4 391.0L343.6 391.0L343.6 380.5L344.4 380.5L344.4 377.5L345.1 376.0L345.9 375.3M343.6 391.0L344.4 391.0L344.4 380.5L347.4 380.5M344.4 391.0L346.6 391.0" fill="none" stroke="#ff0000" stroke-width="2.4" stroke-linecap="round" stroke-linejoin="round"/>
<path d="M191.6 412.4L193.8 412.4L193.8 409.4L194.6 407.9L196.1 407.1L197.6 407.1L198.3 407.9L198.3 408.6L197.6 409.4L196.8 408.6L197.6 407.9M191.6 422.9L193.8 422.9L193.8 412.4L194.6 412.4L194.6 409.4L195.3 407.9L196.1 407.1M193.8 422.9L194.6 422.9L194.6 412.4L197.6 412.4M194.6 422.9L196.8 422.9M201.5 412.4L204.5 412.4L204.5 422.9L203.8 422.9L203.8 412.4M201.5 422.9L203.8 422.9M204.5 422.9L206.8 422.9M203.0 407.9L203.8 407.1L204.5 407.9L203.8 408.6L203.0 407.9M209.9 412.4L214.4 412.4M209.9 422.9L211.4 422.9L220.4 412.4L217.4 412.4M211.4 412.4L214.4 416.1L213.6 415.4M211.4 412.4L216.6 419.1L214.4 416.1L219.6 422.9L211.4 412.4M212.1 412.4L215.1 416.1L214.4 415.4M212.1 412.4L217.4 419.1L215.1 416.1L220.4 422.9L212.1 412.4M212.1 422.1L211.4 422.9L214.4 422.9M215.1 418.4L216.6 416.9M216.6 419.1L219.6 422.9L217.4 422.9M217.4 419.1L220.4 422.9L219.6 422.9M219.6 413.1L220.4 412.4L221.9 412.4M220.4 422.9L221.9 422.9M239.2 414.6L239.2 413.9L239.9 413.1L241.4 412.4L244.4 412.4L245.9 413.1L246.7 413.9L247.4 412.4L247.4 415.4L246.7 413.9M239.2 414.6L239.2 415.4L239.9 416.1L241.4 416.9L245.2 418.4L246.7 419.1L247.4 419.9L247.4 419.1L246.7 418.4L245.2 417.6L241.4 416.1L239.9 415.4L239.2 414.6M239.9 421.4L239.2 419.9L239.2 422.9L239.9 421.4L240.7 422.1L242.2 422.9L245.2 422.9L246.7 422.1L247.4 421.4L247.4 419.9M254.7 413.9L254.7 414.6L254.0 414.6L254.0 413.9L254.7 413.1L256.2 412.4L259.2 412.4L260.7 413.1L261.5 413.9L261.5 415.4L260.7 416.1L256.2 416.9L254.0 417.6L253.2 419.1L253.2 420.6L254.0 422.1L256.2 422.9L254.7 422.1L254.0 420.6L254.0 419.1L254.7 417.6L256.2 416.9M256.2 422.9L258.5 422.9L260.0 422.1L261.5 420.6L261.5 415.4M261.5 413.9L262.2 415.4L262.2 420.6L263.0 422.1L263.7 422.9L262.2 422.1L261.5 420.6M263.7 422.9L264.5 422.9M268.8 412.4L271.0 412.4L271.0 407.1M271.8 407.1L271.8 412.4L271.0 412.4L271.0 419.9L271.8 422.1L273.2 422.9L272.5 422.1L271.8 419.9L271.8 412.4L274.8 412.4M273.2 422.9L274.8 422.9L276.2 422.1L277.0 420.6" fill="none" stroke="#ff0000" stroke-width="2.4" stroke-linecap="round" stroke-linejoin="round"/>
<path d="M215.1 735.5L217.3 734.4L220.6 731.1L220.6 754.0L219.5 754.0L219.5 732.2M215.1 754.0L219.5 754.0M220.6 754.0L225.0 754.0M233.7 751.8L233.7 750.7L234.8 747.5L236.9 745.3L239.1 744.2L244.6 742.0L247.8 739.8L248.9 737.6L248.9 735.5L247.8 733.3L246.8 732.2L243.5 731.1L239.1 731.1L235.9 732.2L234.8 733.3L233.7 735.5L233.7 736.6L234.8 737.6L235.9 736.6L234.8 735.5M233.7 751.8L234.8 750.7L236.9 750.7L242.4 752.9L245.7 752.9L247.8 751.8L248.9 750.7L248.9 748.5M233.7 751.8L233.7 754.0M236.9 750.7L242.4 754.0L246.8 754.0L247.8 752.9L248.9 750.7M239.1 744.2L243.5 742.0L246.8 739.8L247.8 737.6L247.8 735.5L246.8 733.3L245.7 732.2L243.5 731.1" fill="none" stroke="#000" stroke-width="2.1" stroke-linecap="round" stroke-linejoin="round"/>
<path d="M396.2 735.5L398.4 734.4L401.7 731.1L401.7 754.0L400.6 754.0L400.6 732.2M396.2 754.0L400.6 754.0M401.7 754.0L406.0 754.0M415.8 735.5L416.9 736.6L415.8 737.6L414.7 736.6L414.7 735.5L415.8 733.3L416.9 732.2L420.2 731.1L424.5 731.1L426.7 732.2L427.8 734.4L427.8 737.6L426.7 739.8L424.5 740.9L427.8 739.8L428.9 737.6L428.9 734.4L427.8 732.2L424.5 731.1M415.8 749.6L416.9 748.5L415.8 747.5L414.7 748.5L414.7 749.6L415.8 751.8L416.9 752.9L420.2 754.0L424.5 754.0L426.7 752.9L427.8 751.8L428.9 749.6L428.9 746.4L427.8 743.1L426.7 742.0L424.5 740.9L421.3 740.9M424.5 754.0L427.8 752.9L428.9 751.8L430.0 749.6L430.0 746.4L428.9 744.2L427.8 743.1" fill="none" stroke="#000" stroke-width="2.1" stroke-linecap="round" stroke-linejoin="round"/>
<path d="M576.7 735.5L578.9 734.4L582.2 731.1L582.2 754.0L581.1 754.0L581.1 732.2M576.7 754.0L581.1 754.0M582.2 754.0L586.5 754.0M597.4 743.1L606.1 731.1L606.1 747.5L605.1 747.5L605.1 733.3M597.4 743.1L602.9 735.5L606.1 731.1L594.2 747.5L602.9 735.5M597.4 743.1L594.2 747.5L605.1 747.5L605.1 754.0L601.8 754.0M599.6 739.8L600.7 738.7M605.1 754.0L606.1 754.0L606.1 747.5L611.6 747.5M606.1 754.0L609.4 754.0" fill="none" stroke="#000" stroke-width="2.1" stroke-linecap="round" stroke-linejoin="round"/>
<g transform="translate(67.5 0) rotate(-90)"><path d="M-55.1 -22.7L-52.9 -22.7L-50.8 -21.6L-49.7 -20.5L-48.6 -18.4L-47.5 -13.0L-47.5 -9.7L-48.6 -4.3L-49.7 -2.2L-50.8 -1.1L-52.9 0.0L-49.7 -1.1L-47.5 -4.3L-46.4 -9.7L-46.4 -13.0L-47.5 -18.4L-49.7 -21.6L-52.9 -22.7M-55.1 -22.7L-58.4 -21.6L-60.5 -18.4L-61.6 -13.0L-61.6 -9.7L-60.5 -4.3L-58.4 -1.1L-55.1 0.0L-57.3 -1.1L-58.4 -2.2L-59.4 -4.3L-60.5 -9.7L-60.5 -13.0L-59.4 -18.4L-58.4 -20.5L-57.3 -21.6L-55.1 -22.7M-55.1 0.0L-52.9 0.0M-76.5 -22.7L-74.4 -22.7L-72.2 -21.6L-71.1 -20.5L-70.1 -18.4L-69.0 -13.0L-69.0 -9.7L-70.1 -4.3L-71.1 -2.2L-72.2 -1.1L-74.4 0.0L-71.1 -1.1L-69.0 -4.3L-67.9 -9.7L-67.9 -13.0L-69.0 -18.4L-71.1 -21.6L-74.4 -22.7M-76.5 -22.7L-79.8 -21.6L-81.9 -18.4L-83.0 -13.0L-83.0 -9.7L-81.9 -4.3L-79.8 -1.1L-76.5 0.0L-78.7 -1.1L-79.8 -2.2L-80.8 -4.3L-81.9 -9.7L-81.9 -13.0L-80.8 -18.4L-79.8 -20.5L-78.7 -21.6L-76.5 -22.7M-76.5 0.0L-74.4 0.0M-100.0 -18.4L-98.3 -19.4L-95.7 -22.7L-95.7 0.0L-96.5 0.0L-96.5 -21.6M-100.0 0.0L-96.5 0.0M-95.7 0.0L-92.2 0.0M-277.9 -22.7L-275.8 -22.7L-273.6 -21.6L-272.5 -20.5L-271.5 -18.4L-270.4 -13.0L-270.4 -9.7L-271.5 -4.3L-272.5 -2.2L-273.6 -1.1L-275.8 0.0L-272.5 -1.1L-270.4 -4.3L-269.3 -9.7L-269.3 -13.0L-270.4 -18.4L-272.5 -21.6L-275.8 -22.7M-277.9 -22.7L-281.2 -21.6L-283.3 -18.4L-284.4 -13.0L-284.4 -9.7L-283.3 -4.3L-281.2 -1.1L-277.9 0.0L-280.1 -1.1L-281.2 -2.2L-282.2 -4.3L-283.3 -9.7L-283.3 -13.0L-282.2 -18.4L-281.2 -20.5L-280.1 -21.6L-277.9 -22.7M-277.9 0.0L-275.8 0.0M-301.5 -18.4L-299.9 -19.4L-297.6 -22.7L-297.6 0.0L-298.3 0.0L-298.3 -21.6M-301.5 0.0L-298.3 0.0M-297.6 0.0L-294.4 0.0M-503.0 -18.4L-501.3 -19.4L-498.7 -22.7L-498.7 0.0L-499.6 0.0L-499.6 -21.6M-503.0 0.0L-499.6 0.0M-498.7 0.0L-495.3 0.0M-699.0 -18.4L-697.4 -19.4L-695.1 -22.7L-695.1 0.0L-695.9 0.0L-695.9 -21.6M-699.0 0.0L-695.9 0.0M-695.1 0.0L-692.0 0.0M-728.9 -22.7L-726.7 -22.7L-724.5 -21.6L-723.5 -20.5L-722.4 -18.4L-721.3 -13.0L-721.3 -9.7L-722.4 -4.3L-723.5 -2.2L-724.5 -1.1L-726.7 0.0L-723.5 -1.1L-721.3 -4.3L-720.2 -9.7L-720.2 -13.0L-721.3 -18.4L-723.5 -21.6L-726.7 -22.7M-728.9 -22.7L-732.1 -21.6L-734.3 -18.4L-735.4 -13.0L-735.4 -9.7L-734.3 -4.3L-732.1 -1.1L-728.9 0.0L-731.1 -1.1L-732.1 -2.2L-733.2 -4.3L-734.3 -9.7L-734.3 -13.0L-733.2 -18.4L-732.1 -20.5L-731.1 -21.6L-728.9 -22.7M-728.9 0.0L-726.7 0.0" fill="none" stroke="#000" stroke-width="2.4" stroke-linecap="round" stroke-linejoin="round"/></g>
<circle cx="66.4" cy="711.8" r="1.9" fill="#000"/>
<path d="M420.6 102.4L423.8 102.4L425.9 103.5L428.1 105.6L428.1 106.7L427.0 107.8L425.9 106.7L427.0 105.6M420.6 102.4L417.4 103.5L415.2 105.6L414.1 108.8L414.1 111.0L415.2 114.2L417.4 116.3L420.6 117.4L418.4 116.3L416.3 114.2L415.2 111.0L415.2 108.8L416.3 105.6L418.4 103.5L420.6 102.4M420.6 117.4L422.7 117.4L425.9 116.3L428.1 114.2M435.6 108.8L436.6 105.6L438.8 103.5L440.9 102.4L444.1 102.4L446.3 103.5L447.3 104.6L448.4 106.7L448.4 108.8L447.3 108.8L447.3 105.6L446.3 103.5M435.6 108.8L447.3 108.8M435.6 108.8L435.6 111.0L436.6 114.2L438.8 116.3L440.9 117.4L437.7 116.3L435.6 114.2L434.5 111.0L434.5 108.8L435.6 105.6L437.7 103.5L440.9 102.4M440.9 117.4L443.0 117.4L446.3 116.3L448.4 114.2M453.8 102.4L458.0 102.4L458.0 105.6L460.2 103.5L463.4 102.4L465.5 102.4L467.7 103.5L468.7 105.6L468.7 117.4L465.5 117.4M453.8 117.4L457.0 117.4L457.0 102.4M457.0 117.4L458.0 117.4L458.0 105.6M458.0 117.4L461.2 117.4M465.5 102.4L468.7 103.5L469.8 105.6L469.8 117.4L468.7 117.4M469.8 117.4L473.0 117.4M477.3 102.4L480.5 102.4L480.5 94.9M481.6 94.9L481.6 102.4L480.5 102.4L480.5 113.1L481.6 116.3L483.7 117.4L482.7 116.3L481.6 113.1L481.6 102.4L485.9 102.4M483.7 117.4L485.9 117.4L488.0 116.3L489.1 114.2M493.4 102.4L497.6 102.4L497.6 108.8L498.7 105.6L500.8 103.5L503.0 102.4L506.2 102.4L507.3 103.5L507.3 104.6L506.2 105.6L505.1 104.6L506.2 103.5M493.4 117.4L496.6 117.4L496.6 102.4M496.6 117.4L497.6 117.4L497.6 108.8M497.6 117.4L500.8 117.4M514.8 104.6L514.8 105.6L513.7 105.6L513.7 104.6L514.8 103.5L516.9 102.4L521.2 102.4L523.3 103.5L524.4 104.6L524.4 106.7L523.3 107.8L516.9 108.8L513.7 109.9L512.6 112.1L512.6 114.2L513.7 116.3L516.9 117.4L514.8 116.3L513.7 114.2L513.7 112.1L514.8 109.9L516.9 108.8M516.9 117.4L520.1 117.4L522.3 116.3L524.4 114.2L524.4 106.7M524.4 104.6L525.5 106.7L525.5 114.2L526.5 116.3L527.6 117.4L525.5 116.3L524.4 114.2M527.6 117.4L528.7 117.4M533.0 94.9L537.2 94.9L537.2 117.4L536.2 117.4L536.2 94.9M533.0 117.4L536.2 117.4M537.2 117.4L540.5 117.4" fill="none" stroke="#000" stroke-width="2.3" stroke-linecap="round" stroke-linejoin="round"/>
<path d="M274.9 761.8L279.1 761.8L279.1 784.1L278.0 784.1L278.0 761.8M274.9 784.1L278.0 784.1M279.1 784.1L282.3 784.1M288.0 782.0L288.0 780.9L289.0 778.8L290.1 777.7L289.0 775.6L289.0 773.5L290.1 771.4L291.2 770.3L293.3 769.3L295.4 769.3L297.5 770.3L298.6 771.4L299.6 770.3L301.8 769.3L301.8 770.3L299.6 770.3M288.0 782.0L289.0 783.0L292.2 784.1L297.5 784.1L300.7 785.2L301.8 787.3L300.7 786.2L297.5 785.2L292.2 785.2L289.0 784.1L288.0 782.0M290.1 777.7L291.2 778.8L290.1 776.7L290.1 772.4L291.2 770.3M291.2 778.8L293.3 779.9L295.4 779.9L297.5 778.8L298.6 776.7L298.6 772.4L297.5 770.3M291.2 784.1L288.0 785.2L286.9 787.3L286.9 788.3L288.0 790.5L291.2 791.5L297.5 791.5L300.7 790.5L301.8 788.3L301.8 787.3M297.5 778.8L298.6 777.7L299.6 775.6L299.6 773.5L298.6 771.4M324.9 761.8L328.8 761.8L334.8 780.9M324.9 784.1L327.8 784.1L327.8 761.8L334.8 784.1L341.7 761.8L345.6 761.8M327.8 784.1L330.8 784.1M338.7 784.1L341.7 784.1L341.7 761.8M341.7 784.1L342.7 784.1L342.7 761.8M342.7 784.1L345.6 784.1M350.8 780.4L353.4 780.4L353.4 787.0L353.9 785.8L354.4 785.2L355.5 784.6L357.1 784.6L357.6 785.2L358.1 787.0L358.1 792.4L357.1 793.0L356.6 793.0M350.8 793.0L351.3 793.0L352.3 792.4L352.3 781.6L351.8 780.4M351.3 780.4L352.3 781.0L352.3 780.4M351.3 793.0L351.8 793.0L352.3 791.8M351.8 793.0L352.3 793.0L352.3 792.4M352.3 781.0L352.3 781.6M352.3 793.0L353.4 793.0L353.4 787.0M352.9 781.0L352.9 792.4M353.4 791.8L353.9 793.0L353.4 793.0M353.4 792.4L354.4 793.0L353.9 793.0M354.4 793.0L355.0 793.0M357.1 784.6L358.1 785.2L358.7 785.8L359.2 787.6L359.2 793.0L358.1 793.0L358.1 792.4M357.1 793.0L357.6 793.0L358.1 791.8M357.6 793.0L358.1 793.0M358.1 785.8L358.7 787.6L358.7 792.4M359.2 791.8L359.7 793.0L359.2 793.0M359.2 792.4L360.3 793.0L359.7 793.0M360.3 793.0L360.8 793.0M384.8 757.6L383.9 757.6L383.9 791.5L384.8 791.5L384.8 757.6L390.5 757.6M384.8 791.5L390.5 791.5M397.4 761.8L401.5 761.8L401.5 772.4L403.5 770.3L406.6 769.3L408.6 769.3L410.7 770.3L411.7 772.4L411.7 784.1L408.6 784.1M397.4 784.1L400.5 784.1L400.5 761.8M400.5 784.1L401.5 784.1L401.5 772.4M401.5 784.1L404.6 784.1M408.6 769.3L411.7 770.3L412.7 772.4L412.7 784.1L411.7 784.1M412.7 784.1L415.8 784.1M421.2 769.1L431.4 769.1M436.8 765.3L438.0 764.7L439.9 763.0L439.9 774.8L439.3 774.8L439.3 763.6M436.8 774.8L439.3 774.8M439.9 774.8L442.4 774.8M467.4 761.8L471.3 761.8L477.1 780.9M467.4 784.1L470.3 784.1L470.3 761.8L477.1 784.1L483.9 761.8L487.8 761.8M470.3 784.1L473.2 784.1M481.0 784.1L483.9 784.1L483.9 761.8M483.9 784.1L484.9 784.1L484.9 761.8M484.9 784.1L487.8 784.1M513.1 757.6L519.8 757.6L519.8 791.5L518.9 791.5L518.9 757.6M513.1 791.5L518.9 791.5" fill="none" stroke="#000" stroke-width="2.1" stroke-linecap="round" stroke-linejoin="round"/><circle cx="500" cy="787.7" r="7.1" fill="none" stroke="#000" stroke-width="2.1"/><circle cx="500" cy="787.7" r="1.9" fill="#000"/>
<g transform="translate(31.0 431) rotate(-90)"><path d="M1.2 -22.3L5.1 -22.3L7.0 -19.1L9.9 -13.8L5.1 -22.3L11.8 -10.6L7.0 -19.1L14.7 -5.3L11.8 -10.6L9.9 -13.8L16.6 -2.1L5.1 -22.3M1.2 0.0L4.1 0.0L4.1 -22.3M4.1 0.0L7.0 0.0M11.8 -10.6L16.6 -2.1L14.7 -5.3M11.8 -8.5L5.1 -20.1L7.0 -17.0L9.9 -11.7L5.1 -20.1L16.6 0.0L9.9 -11.7L11.8 -8.5L7.0 -17.0L14.7 -3.2L11.8 -8.5L16.6 0.0L14.7 -3.2M13.7 -22.3L19.4 -22.3M16.6 -22.3L16.6 0.0M23.8 -1.0L23.1 0.3L22.4 2.1L22.4 5.2L23.1 7.1L23.8 8.3M24.5 8.3L25.2 7.1L26.6 6.5L27.3 6.5L28.7 7.1L29.4 8.3L30.8 11.4L31.5 12.1L32.2 12.1L32.9 11.4L32.9 10.8M26.6 -2.8L28.0 -2.8L29.4 -2.2L30.8 -0.3L31.5 2.1L31.5 5.2L30.8 7.7L29.4 9.6L28.0 10.2L30.1 9.6L31.5 8.3L32.2 7.1L32.9 4.6L32.9 2.8L32.2 0.3L31.5 -1.0L30.1 -2.2L28.0 -2.8M26.6 -2.8L24.5 -2.2L23.1 -1.0L22.4 0.3L21.8 2.8L21.8 4.6L22.4 7.1L23.1 8.3L24.5 9.6L26.6 10.2L25.2 9.6L23.8 7.7L23.1 5.2L23.1 2.1L23.8 -0.3L25.2 -2.2L26.6 -2.8M26.6 10.2L28.0 10.2M29.4 8.3L30.1 12.1L30.8 13.3L32.2 13.3L32.9 12.1L32.9 11.4M30.1 10.8L30.8 12.1L31.5 12.7L32.2 12.7M30.8 -1.0L31.5 0.3L32.2 2.1L32.2 5.2L31.5 7.1L30.8 8.3M46.6 -24.4L48.8 -26.5M46.6 -24.4L44.5 -20.1L43.4 -17.0L42.2 -11.7L42.2 -7.4L43.4 -2.1L44.5 1.1L46.6 5.3L44.5 2.1L42.2 -2.1L41.1 -7.4L41.1 -11.7L42.2 -17.0L44.5 -21.2L46.6 -24.4M46.6 5.3L48.8 7.4M54.8 -22.3L58.8 -22.3L64.9 -3.2M54.8 0.0L57.8 0.0L57.8 -22.3L64.9 0.0L72.0 -22.3L76.0 -22.3M57.8 0.0L60.8 0.0M68.9 0.0L72.0 0.0L72.0 -22.3M72.0 0.0L73.0 0.0L73.0 -22.3M73.0 0.0L76.0 0.0M82.6 -3.3L85.4 -3.3L85.4 3.5L85.9 2.3L86.5 1.6L87.6 1.0L89.2 1.0L89.7 1.6L90.3 3.5L90.3 9.1L89.2 9.7L88.7 9.7M82.6 9.7L83.2 9.7L84.3 9.1L84.3 -2.1L83.7 -3.3M83.2 -3.3L84.3 -2.7L84.3 -3.3M83.2 9.7L83.7 9.7L84.3 8.5M83.7 9.7L84.3 9.7L84.3 9.1M84.3 -2.7L84.3 -2.1M84.3 9.7L85.4 9.7L85.4 3.5M84.8 -2.7L84.8 9.1M85.4 8.5L85.9 9.7L85.4 9.7M85.4 9.1L86.5 9.7L85.9 9.7M86.5 9.7L87.0 9.7M89.2 1.0L90.3 1.6L90.8 2.3L91.4 4.1L91.4 9.7L90.3 9.7L90.3 9.1M89.2 9.7L89.7 9.7L90.3 8.5M89.7 9.7L90.3 9.7M90.3 2.3L90.8 4.1L90.8 9.1M91.4 8.5L91.9 9.7L91.4 9.7M91.4 9.1L92.5 9.7L91.9 9.7M92.5 9.7L93.0 9.7M96.2 -26.5L98.5 -24.4L100.7 -20.1L101.8 -17.0L102.8 -11.7L102.8 -7.4L101.8 -2.1L100.7 1.1L98.5 5.3L100.7 2.1L102.8 -2.1L104.0 -7.4L104.0 -11.7L102.8 -17.0L100.7 -21.2L98.5 -24.4M96.2 7.4L98.5 5.3" fill="none" stroke="#000" stroke-width="2.1" stroke-linecap="round" stroke-linejoin="round"/></g>
</svg></body></html>
